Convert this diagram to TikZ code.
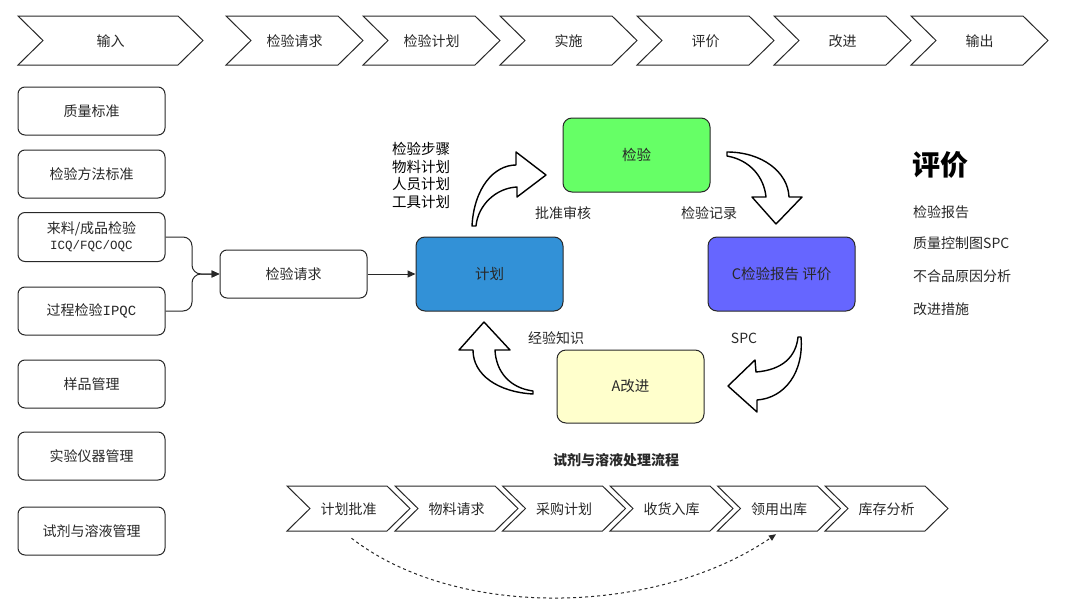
\documentclass[tikz,border=0pt]{standalone}
\usepackage{fontspec}
\setmainfont{Noto Sans CJK SC}
\newfontfamily\monof{Liberation Mono}
\usetikzlibrary{arrows.meta,calc}
\definecolor{planblue}{RGB}{50,145,215}
\definecolor{inspgreen}{RGB}{102,255,102}
\definecolor{chkblue}{RGB}{102,102,255}
\definecolor{actyellow}{RGB}{255,255,204}
\definecolor{ink}{RGB}{40,40,40}
\newcommand\myfs[2]{\fontsize{#1}{#2}\selectfont}
\tikzset{
  lbox/.style={draw=ink, line width=1pt, rounded corners=7pt, fill=white, minimum width=147pt, minimum height=48pt, inner sep=0pt, align=center, font=\myfs{14}{17}, text=ink},
  cbox/.style={draw=ink, line width=1pt, rounded corners=9pt, minimum width=147pt, minimum height=74pt, inner sep=0pt, font=\myfs{14.5}{17}, text=ink},
  chevshape/.style={draw=ink, line width=1pt, fill=white, line join=miter},
  chevtext/.style={inner sep=0pt, font=\myfs{14}{17}, text=ink},
  blk/.style={draw=black, line width=1.4pt, fill=white, line join=round},
  lbl/.style={font=\myfs{14}{17.7}, text=ink, inner sep=0pt},
  conn/.style={draw=ink, line width=1pt, -{Triangle[length=8pt,width=7pt]}},
}
% #1 name, #2 left x, #3 top y, #4 width, #5 height, #6 depth, #7 text
\newcommand\chevr[7]{%
  \draw[chevshape] (#2,#3) -- ++(#4-#6,0) -- ++(#6,#5/2) -- ++(-#6,#5/2) -- ++(-#4+#6,0) -- ++(#6,-#5/2) -- cycle;
  \node[chevtext, minimum width=#4pt, minimum height=#5pt] (#1) at (#2+#4/2,#3+#5/2+1) {#7};
}
\begin{document}
\begin{tikzpicture}[x=1pt,y=-1pt]
\useasboundingbox (0,0) rectangle (1066,616);

% top chevrons
\chevr{t1}{18}{16}{185}{49}{25}{输入}
\chevr{t2}{226}{16}{137}{49}{25}{检验请求}
\chevr{t3}{363}{16}{137}{49}{25}{检验计划}
\chevr{t4}{500}{16}{137}{49}{25}{实施}
\chevr{t5}{637}{16}{137}{49}{25}{评价}
\chevr{t6}{774}{16}{137}{49}{25}{改进}
\chevr{t7}{911}{16}{137}{49}{25}{输出}

% left boxes
\node[lbox] (q1) at (91.5,111) {质量标准};
\node[lbox] (q2) at (91.5,174) {检验方法标准};
\node[lbox, minimum height=49pt] (q3) at (91.5,237) {来料/成品检验\\[-1pt]{\monof\myfs{12.5}{15}ICQ/FQC/OQC}};
\node[lbox] (q4) at (91.5,311) {过程检验{\monof IPQC}};
\node[lbox] (q5) at (91.5,384) {样品管理};
\node[lbox] (q6) at (91.5,456) {实验仪器管理};
\node[lbox] (q7) at (91.5,531) {试剂与溶液管理};

\node[lbox] (req) at (293.5,274) {检验请求};
\coordinate (mj) at (192,274);
\draw[conn, rounded corners=9pt] (q3.east) -| (mj) -- (req.west);
\draw[conn, rounded corners=9pt] (q4.east) -| (mj) -- (req.west);

% PDCA boxes
\node[cbox, fill=planblue] (plan) at (489.5,274) {计划};
\node[cbox, fill=inspgreen] (insp) at (636.5,155) {检验};
\node[cbox, fill=chkblue] (chk) at (781.5,274) {C检验报告 评价};
\node[cbox, fill=actyellow, minimum height=73pt] (act) at (630.5,386.5) {A改进};
\draw[conn] (req.east) -- (plan.west);

% curved block arrows
\draw[blk] (472,226) .. controls (474,188) and (494,165) .. (516,165)
  -- (516,152) -- (546,175) -- (517,197) -- (517,187)
  .. controls (496,188) and (478,205) .. (476,226) -- cycle;
\draw[blk] (727,152) .. controls (762,152) and (788,172) .. (789,197)
  -- (802,197) -- (776,224) -- (752,197) -- (766,197)
  .. controls (764,177) and (750,160) .. (727,156) -- cycle;
\draw[blk] (801,337) .. controls (804,372) and (785,398) .. (757,400)
  -- (757,412) -- (728,386) -- (755,360) -- (756,372)
  .. controls (782,370) and (796,357) .. (798,337) -- cycle;
\draw[blk] (533,394) .. controls (498,392) and (473,375) .. (473,350)
  -- (459,350) -- (484,322) -- (510,350) -- (495,350)
  .. controls (496,372) and (510,388) .. (533,391) -- cycle;

% labels
\node[lbl, anchor=west, align=left, text=black, font=\myfs{14.5}{17.7}] (steps) at (392,175.5) {检验步骤\\物料计划\\人员计划\\工具计划};
\node[lbl] (l1) at (563,213) {批准审核};
\node[lbl] (l2) at (709,213) {检验记录};
\node[lbl] (l3) at (556,338) {经验知识};
\node[lbl] (l4) at (744,338) {SPC};

% right panel
\node[lbl, anchor=west, font=\myfs{28}{32}\bfseries, text=black] (ev) at (912,165) {评价};
\node[lbl, anchor=west] (e1) at (913,212) {检验报告};
\node[lbl, anchor=west] (e2) at (913,243) {质量控制图SPC};
\node[lbl, anchor=west] (e3) at (913,276) {不合品原因分析};
\node[lbl, anchor=west] (e4) at (913,309) {改进措施};

% reagent flow
\node[lbl, font=\myfs{14}{17}\bfseries] (flow) at (616,460) {试剂与溶液处理流程};
\chevr{b1}{287}{486}{123}{45}{23}{计划批准}
\chevr{b2}{395}{486}{123}{45}{23}{物料请求}
\chevr{b3}{502.5}{486}{123}{45}{23}{采购计划}
\chevr{b4}{610}{486}{123}{45}{23}{收货入库}
\chevr{b5}{717.5}{486}{123}{45}{23}{领用出库}
\chevr{b6}{825}{486}{123}{45}{23}{库存分析}
\draw[draw=ink, line width=1pt, dash pattern=on 3pt off 3pt, -{Triangle[length=7pt,width=6pt]}]
  ([xshift=3pt,yshift=-6pt]b1.south) .. controls (460,622) and (660,614) .. ([xshift=-3pt,yshift=-2pt]b5.south);
\end{tikzpicture}
\end{document}
